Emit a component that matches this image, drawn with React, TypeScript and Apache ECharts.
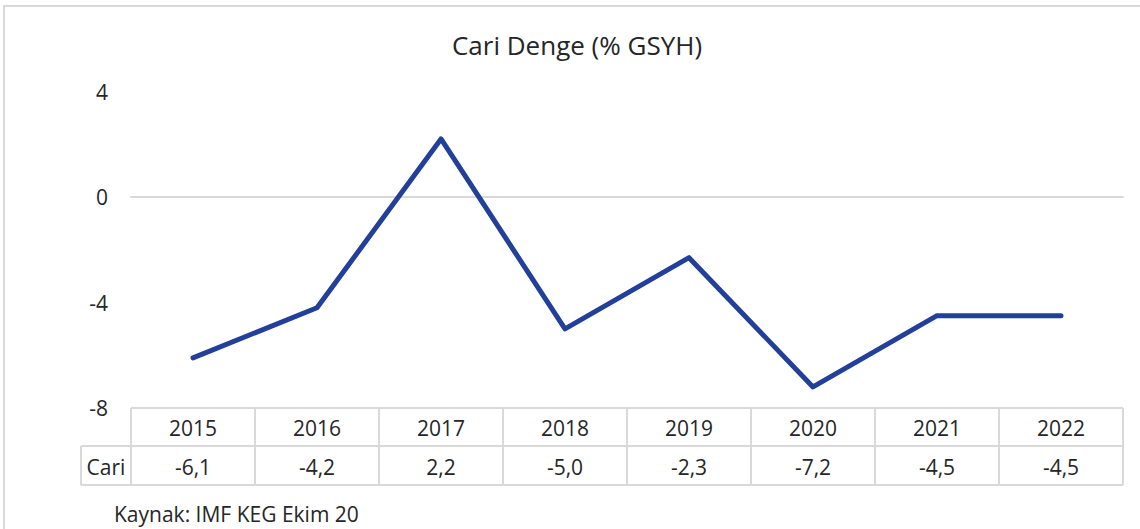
import React, { useEffect, useRef } from "react";
import * as echarts from "echarts";

const years = ["2015", "2016", "2017", "2018", "2019", "2020", "2021", "2022"];
const cari = [-6.1, -4.2, 2.2, -5.0, -2.3, -7.2, -4.5, -4.5];
const yTicks = { min: -8, max: 4, interval: 4 };
const title = "Cari Denge (% GSYH)";
const rowLabel = "Cari";
const source = "Kaynak: IMF KEG Ekim 20";

const W = 1140;
const H = 529;
const GL = 131;
const GR = 1123;
const GT = 91.5;
const GB = 408;
const ROW1 = 446;
const ROW2 = 485;
const CARI_L = 81;
const FONT = "'Open Sans', 'Noto Sans', sans-serif";
const BORDER = "#d9d9d9";
const TXT = "#262626";
const FS = 21;

export default function App() {
  const ref = useRef<HTMLDivElement>(null);
  useEffect(() => {
    document.body.style.margin = "0";
    const chart = echarts.init(ref.current!, null, { renderer: "svg" });
    const colW = (GR - GL) / years.length;
    const fmt = (v: number) => v.toFixed(1).replace(".", ",");
    const g: any[] = [];
    g.push({
      type: "rect",
      shape: { x: 4, y: 6, width: W + 20, height: H + 20 },
      style: { fill: "none", stroke: BORDER, lineWidth: 2 },
      silent: true,
    });
    const line = (x1: number, y1: number, x2: number, y2: number) =>
      g.push({
        type: "line",
        shape: { x1, y1, x2, y2 },
        style: { stroke: BORDER, lineWidth: 2 },
        silent: true,
      });
    line(GL, GB, GR, GB);
    line(CARI_L, ROW1, GR, ROW1);
    line(CARI_L, ROW2, GR, ROW2);
    line(CARI_L, ROW1, CARI_L, ROW2);
    for (let i = 0; i <= years.length; i++) {
      const x = GL + i * colW;
      line(x, GB, x, ROW2);
    }
    const txt = (text: string, x: number, y: number, align: string) =>
      g.push({
        type: "text",
        x,
        y,
        style: { text, fill: TXT, font: `${FS}px ${FONT}`, align, verticalAlign: "middle" },
      });
    years.forEach((yr, i) => {
      const cx = GL + (i + 0.5) * colW;
      txt(yr, cx, (GB + ROW1) / 2 + 1, "center");
      txt(fmt(cari[i]), cx, (ROW1 + ROW2) / 2 + 1, "center");
    });
    txt(rowLabel, (CARI_L + GL) / 2, (ROW1 + ROW2) / 2 + 1, "center");
    txt(source, 114, 514, "left");

    chart.setOption({
      animation: false,
      title: {
        text: title,
        left: 572,
        textAlign: "center",
        top: 27,
        textStyle: { fontFamily: FONT, fontSize: 26, fontWeight: "normal", color: TXT },
      },
      grid: { left: GL, right: W - GR, top: GT, bottom: H - GB, containLabel: false },
      xAxis: {
        type: "category",
        data: years,
        boundaryGap: true,
        axisLine: { onZero: true, lineStyle: { color: BORDER, width: 2 } },
        axisTick: { show: false },
        axisLabel: { show: false },
        splitLine: { show: false },
      },
      yAxis: {
        type: "value",
        min: yTicks.min,
        max: yTicks.max,
        interval: yTicks.interval,
        axisLine: { show: false },
        axisTick: { show: false },
        splitLine: { show: false },
        axisLabel: { color: TXT, fontSize: FS, fontFamily: FONT, margin: 23 },
      },
      series: [
        {
          type: "line",
          data: cari,
          symbol: "none",
          lineStyle: { color: "#22409A", width: 5, cap: "round", join: "round" },
        },
      ],
      graphic: g,
    });
    return () => chart.dispose();
  }, []);
  return <div ref={ref} style={{ width: W, height: H }} />;
}
